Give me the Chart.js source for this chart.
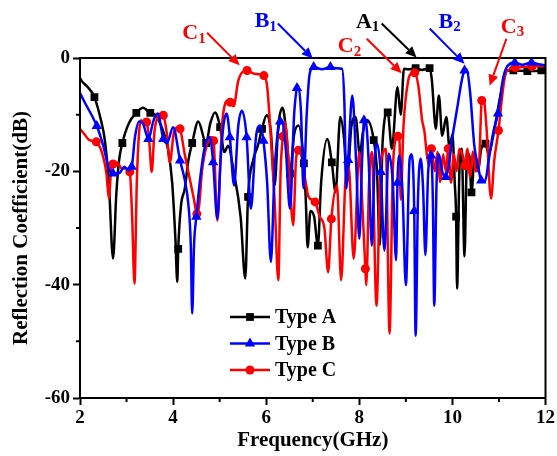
<!DOCTYPE html>
<html>
<head>
<meta charset="utf-8">
<script src="https://cdn.jsdelivr.net/npm/chart.js@4.4.0/dist/chart.umd.min.js"></script>
<style>
    html, body { margin: 0; padding: 0; background: #fff; }
    #wrap { width: 557px; height: 456px; }
</style>
</head>
<body>
<div id="wrap"><canvas id="s11Chart"></canvas></div>
<script>
// Type A (frequence en GHz, coefficient en dB)
const freqA = [
    2.00, 2.03, 2.15, 2.31, 2.45, 2.53, 2.62, 2.71, 2.78, 2.84,
    2.91, 3.05, 3.21, 3.35, 3.51, 3.61, 3.72, 3.89, 3.98, 4.05,
    4.09, 4.11, 4.17, 4.25, 4.33, 4.41, 4.54, 4.71, 4.80, 4.90,
    5.01, 5.10, 5.18, 5.30, 5.45, 5.55, 5.61, 5.72, 5.82, 5.91,
    6.01, 6.10, 6.18, 6.26, 6.35, 6.43, 6.51, 6.60, 6.69, 6.81,
    6.85, 6.89, 6.95, 7.03, 7.11, 7.18, 7.31, 7.41, 7.49, 7.59,
    7.67, 7.74, 7.83, 7.92, 8.01, 8.08, 8.17, 8.31, 8.38, 8.44,
    8.50, 8.61, 8.70, 8.82, 8.89, 8.96, 9.05, 9.21, 9.35, 9.51,
    9.56, 9.61, 9.64, 9.71, 9.78, 9.87, 9.94, 10.00, 10.05, 10.08,
    10.10, 10.15, 10.20, 10.26, 10.31, 10.36, 10.41, 10.48, 10.55, 10.62,
    10.71, 10.78, 10.87, 11.00, 11.10, 11.18, 11.31, 11.61, 11.91, 12.00
];
const s11A = [
    -3.5, -4.0, -5.0, -6.9, -11, -14.3, -22, -35.4, -24, -18,
    -15, -11.5, -9.7, -8.8, -9.7, -10, -11.5, -16, -22, -32,
    -39.5, -33.7, -26, -23.1, -18, -15, -11.2, -15, -11.5, -9.6,
    -12.2, -16.6, -15.5, -20, -28, -38.9, -24.5, -18, -15.5, -12.5,
    -10.1, -13, -22.5, -12, -8.8, -13, -20.4, -13.5, -11.9, -18.6,
    -25, -33.4, -27, -28, -33.1, -22, -14.3, -18.4, -23.7, -10.4,
    -14, -21.9, -12, -10.4, -17, -13, -11, -14.5, -20, -33,
    -15, -9.6, -16, -5.1, -10, -1.9, -2.0, -1.8, -2.1, -1.8,
    -4, -10, -12.5, -6.6, -13.7, -10.4, -16, -13.5, -22, -28,
    -40.7, -20, -16, -35, -18, -17, -23.7, -17, -20, -16,
    -15.1, -17, -14, -8, -4, -2.2, -2.2, -2.3, -2.2, -2.0
];
const markA = [2.31, 2.91, 3.21, 3.51, 4.11, 4.41, 4.71, 5.01, 5.61, 5.91, 6.51, 6.81,
    7.11, 7.41, 8.31, 8.61, 9.21, 9.51, 10.08, 10.41, 10.71, 11.31, 11.61, 11.91];

// Type B
const freqB = [
    2.00, 2.10, 2.36, 2.50, 2.62, 2.71, 2.85, 2.95, 3.03, 3.11,
    3.18, 3.27, 3.35, 3.47, 3.58, 3.67, 3.79, 3.87, 4.00, 4.15,
    4.25, 4.33, 4.38, 4.41, 4.45, 4.50, 4.60, 4.70, 4.79, 4.86,
    4.95, 5.02, 5.08, 5.15, 5.22, 5.31, 5.40, 5.48, 5.58, 5.67,
    5.78, 5.87, 5.94, 6.02, 6.10, 6.18, 6.25, 6.30, 6.33, 6.42,
    6.51, 6.60, 6.66, 6.69, 6.75, 6.80, 6.87, 6.93, 7.02, 7.20,
    7.38, 7.50, 7.63, 7.68, 7.72, 7.76, 7.85, 7.93, 8.00, 8.06,
    8.10, 8.13, 8.20, 8.27, 8.33, 8.38, 8.46, 8.54, 8.63, 8.72,
    8.79, 8.82, 8.86, 8.93, 9.00, 9.08, 9.12, 9.18, 9.21, 9.26,
    9.32, 9.37, 9.42, 9.48, 9.54, 9.58, 9.61, 9.66, 9.71, 9.78,
    9.86, 9.92, 10.00, 10.10, 10.20, 10.26, 10.30, 10.38, 10.47, 10.55,
    10.62, 10.70, 10.78, 10.88, 10.98, 11.08, 11.15, 11.34, 11.50, 11.70,
    11.85, 12.00
];
const s11B = [
    -6.2, -7.8, -12, -15.5, -19.5, -20.4, -20.3, -19.2, -19.8, -19.2,
    -14, -11.2, -11.5, -14.3, -11, -9.8, -14.3, -15, -12.2, -18.1,
    -21.5, -26, -33, -45.1, -33, -28, -20, -15, -14, -18.4,
    -28.4, -18, -12, -9.8, -14, -22.5, -12, -9.3, -14, -26.6,
    -14, -11.9, -14.6, -22, -36, -20, -13, -11.2, -11, -16,
    -26.6, -10, -5.3, -4.9, -10, -23, -10, -3, -1.6, -2.0,
    -1.6, -1.8, -1.9, -8, -23, -18, -6.6, -18, -31.9, -18,
    -11, -10.7, -18, -33.1, -18, -15.1, -20.1, -34, -16.9, -22,
    -35.7, -22, -17.2, -24, -40.1, -18, -17, -27, -49, -25,
    -17.8, -23, -34.8, -20, -17.2, -25, -43.7, -22, -17, -20,
    -21, -19, -14, -9, -4, -2.2, -2.0, -6, -15.4, -19,
    -21.6, -21.8, -18, -13, -9.8, -4, -1.9, -0.8, -1.2, -0.8,
    -1.1, -1.3
];
const markB = [2.36, 2.71, 3.11, 3.47, 3.79, 4.15, 4.50, 4.86, 5.22, 5.58, 5.94, 6.30, 6.66,
    7.02, 7.38, 7.76, 8.10, 8.46, 8.82, 9.18, 9.54, 9.86, 10.26, 10.62, 10.98, 11.34, 11.70];

// Type C
const freqC = [
    2.00, 2.10, 2.20, 2.35, 2.49, 2.57, 2.62, 2.67, 2.71, 2.80,
    2.90, 3.00, 3.07, 3.12, 3.17, 3.22, 3.27, 3.31, 3.37, 3.43,
    3.49, 3.54, 3.60, 3.67, 3.75, 3.79, 3.86, 3.93, 4.02, 4.11,
    4.15, 4.25, 4.35, 4.45, 4.51, 4.56, 4.62, 4.72, 4.83, 4.87,
    4.95, 5.05, 5.12, 5.18, 5.23, 5.30, 5.40, 5.50, 5.59, 5.75,
    5.95, 6.02, 6.10, 6.18, 6.26, 6.31, 6.36, 6.40, 6.48, 6.58,
    6.64, 6.69, 6.75, 6.85, 6.91, 7.05, 7.15, 7.25, 7.33, 7.40,
    7.52, 7.61, 7.70, 7.77, 7.88, 8.00, 8.06, 8.13, 8.15, 8.21,
    8.27, 8.37, 8.45, 8.50, 8.57, 8.65, 8.72, 8.80, 8.83, 8.86,
    8.89, 8.95, 9.05, 9.12, 9.19, 9.27, 9.35, 9.40, 9.45, 9.50,
    9.55, 9.62, 9.68, 9.74, 9.80, 9.86, 9.91, 9.97, 10.03, 10.09,
    10.15, 10.22, 10.27, 10.32, 10.38, 10.44, 10.50, 10.57, 10.63, 10.67,
    10.73, 10.83, 10.90, 10.99, 11.08, 11.15, 11.29, 11.35, 11.50, 11.71,
    11.85, 12.00
];
const s11C = [
    -12.5, -13.5, -14.5, -14.8, -17.2, -20.5, -24.8, -19.5, -18.7, -18.5,
    -19.5, -19.5, -20.1, -28, -39.8, -22, -13, -11, -11.5, -11.3,
    -15, -20.1, -13, -10.4, -9.8, -10.1, -13, -18.4, -13, -12.2,
    -12.5, -17, -21, -25, -27.5, -26, -20, -15.5, -14, -14.6,
    -28.7, -12, -8, -7.5, -7.8, -8.5, -4, -2.4, -2.2, -2.8,
    -3.1, -5, -14, -25, -39.2, -20, -13.8, -11.3, -18, -29.5,
    -18, -16.3, -17, -22, -24.5, -25.4, -28, -30, -37.8, -28.4,
    -22.5, -39.2, -22, -19, -35.4, -16.6, -25, -37.2, -40.1, -22,
    -16.6, -43.7, -20, -17, -16, -48.6, -20, -14, -13.8, -13.7,
    -25, -12, -4, -2.7, -2.6, -5, -11, -13, -17, -19,
    -16, -20, -16.6, -21.9, -17, -20, -16, -22, -17, -20,
    -16, -17.2, -19, -16, -21, -16.5, -20, -19, -7.5, -7.2,
    -12, -24.8, -18, -12.8, -6, -2.5, -1.9, -1.7, -1.6, -1.5,
    -1.4, -1.5
];
const markC = [2.35, 2.71, 3.07, 3.43, 3.79, 4.15, 4.51, 4.87, 5.23, 5.59, 5.95, 6.36, 6.69,
    7.05, 7.40, 8.13, 8.83, 9.19, 9.55, 9.91, 10.27, 10.63, 10.99, 11.35, 11.71];

const seriesNames = ['Type A', 'Type B', 'Type C'];
const xTicks = [2, 4, 6, 8, 10, 12];
const yTicks = [-60, -40, -20, 0];
const xMinor = [3, 5, 7, 9, 11];
const yMinor = [-50, -30, -10];

const BLACK = '#000000';
const BLUE = '#0000ff';
const RED = '#ff0000';
const SERIF = "'Liberation Serif', 'Times New Roman', serif";

// etiquettes des pics : texte, indice, position du texte, origine et pointe de la fleche (en unites des axes)
const peakNotes = [
    { t: 'C', s: '1', c: RED,   at: [4.45, 4.3],  from: [4.73, 4.45], to: [5.43, -1.3] },
    { t: 'B', s: '1', c: BLUE,  at: [5.99, 6.4],  from: [6.25, 6.1],  to: [7.00, -0.1] },
    { t: 'A', s: '1', c: BLACK, at: [8.18, 6.3],  from: [8.48, 6.1],  to: [9.23, 0.1] },
    { t: 'C', s: '2', c: RED,   at: [7.79, 2.0],  from: [8.16, 3.4],  to: [8.91, -2.7] },
    { t: 'B', s: '2', c: BLUE,  at: [9.94, 6.3],  from: [9.51, 5.2],  to: [10.26, -1.0] },
    { t: 'C', s: '3', c: RED,   at: [11.29, 5.4], from: [11.16, 3.4], to: [10.80, -4.9] }
];

function toPoints(xs, ys) {
    if (xs.length !== ys.length) console.warn('longueurs differentes', xs.length, ys.length);
    return xs.map((x, i) => ({ x: x, y: ys[i] }));
}

function markerRadius(list, r) {
    return ctx => (ctx.raw && list.includes(ctx.raw.x)) ? r : 0;
}

function drawArrow(ctx, x1, y1, x2, y2, color) {
    const a = Math.atan2(y2 - y1, x2 - x1);
    const len = 11, half = 5;
    const bx = x2 - len * Math.cos(a), by = y2 - len * Math.sin(a);
    ctx.strokeStyle = color;
    ctx.fillStyle = color;
    ctx.lineWidth = 2;
    ctx.beginPath();
    ctx.moveTo(x1, y1);
    ctx.lineTo(bx, by);
    ctx.stroke();
    ctx.beginPath();
    ctx.moveTo(x2, y2);
    ctx.lineTo(bx + half * Math.sin(a), by - half * Math.cos(a));
    ctx.lineTo(bx - half * Math.sin(a), by + half * Math.cos(a));
    ctx.closePath();
    ctx.fill();
}

const decorPlugin = {
    id: 'decor',
    afterDraw(chart) {
        const ctx = chart.ctx;
        const area = chart.chartArea;
        const sx = chart.scales.x, sy = chart.scales.y;
        ctx.save();

        // cadre
        ctx.strokeStyle = BLACK;
        ctx.lineWidth = 2;
        ctx.strokeRect(area.left, area.top, area.right - area.left, area.bottom - area.top);

        // petites graduations
        ctx.beginPath();
        xMinor.forEach(v => {
            const px = sx.getPixelForValue(v);
            ctx.moveTo(px, area.bottom);
            ctx.lineTo(px, area.bottom + 4);
        });
        yMinor.forEach(v => {
            const py = sy.getPixelForValue(v);
            ctx.moveTo(area.left, py);
            ctx.lineTo(area.left - 4, py);
        });
        ctx.stroke();

        // fleches et etiquettes
        peakNotes.forEach(n => {
            drawArrow(ctx, sx.getPixelForValue(n.from[0]), sy.getPixelForValue(n.from[1]),
                sx.getPixelForValue(n.to[0]), sy.getPixelForValue(n.to[1]), n.c);
            const tx = sx.getPixelForValue(n.at[0]), ty = sy.getPixelForValue(n.at[1]);
            ctx.fillStyle = n.c;
            ctx.textBaseline = 'middle';
            ctx.textAlign = 'left';
            ctx.font = 'bold 22px ' + SERIF;
            const w1 = ctx.measureText(n.t).width;
            ctx.font = 'bold 15px ' + SERIF;
            const w2 = ctx.measureText(n.s).width;
            const x0 = tx - (w1 + w2) / 2;
            ctx.font = 'bold 22px ' + SERIF;
            ctx.fillText(n.t, x0, ty);
            ctx.font = 'bold 15px ' + SERIF;
            ctx.fillText(n.s, x0 + w1, ty + 5);
        });

        // legende
        chart.data.datasets.forEach((ds, i) => {
            const y = area.top + 259 + i * 26.5;
            const x0 = area.left + 150;
            ctx.strokeStyle = ds.borderColor;
            ctx.fillStyle = ds.borderColor;
            ctx.lineWidth = 2.5;
            ctx.beginPath();
            ctx.moveTo(x0, y);
            ctx.lineTo(x0 + 40, y);
            ctx.stroke();
            Chart.helpers.drawPoint(ctx, {
                pointStyle: ds.pointStyle, radius: ds.legendRadius, rotation: 0, borderWidth: 0
            }, x0 + 20, y);
            ctx.fillStyle = BLACK;
            ctx.font = 'bold 20px ' + SERIF;
            ctx.textAlign = 'left';
            ctx.textBaseline = 'middle';
            ctx.fillText(ds.label, x0 + 45, y + 1);
        });
        ctx.restore();
    }
};

function makeDataset(name, xs, ys, marks, color, style, r, order) {
    return {
        label: name,
        data: toPoints(xs, ys),
        borderColor: color,
        backgroundColor: color,
        pointBackgroundColor: color,
        pointBorderColor: color,
        pointBorderWidth: 0,
        pointStyle: style,
        pointRadius: markerRadius(marks, r),
        legendRadius: r,
        borderWidth: 2.5,
        cubicInterpolationMode: 'monotone',
        order: order
    };
}

Chart.defaults.font.family = SERIF;
Chart.defaults.color = BLACK;

new Chart(document.getElementById('s11Chart'), {
    type: 'line',
    data: {
        datasets: [
            makeDataset(seriesNames[0], freqA, s11A, markA, BLACK, 'rect', 5.5, 2),
            makeDataset(seriesNames[1], freqB, s11B, markB, BLUE, 'triangle', 6, 0),
            makeDataset(seriesNames[2], freqC, s11C, markC, RED, 'circle', 4.5, 1)
        ]
    },
    options: {
        responsive: true,
        maintainAspectRatio: false,
        animation: false,
        events: [],
        layout: { padding: { left: 0, top: 58, right: 11, bottom: 0 } },
        plugins: {
            legend: { display: false },
            tooltip: { enabled: false }
        },
        scales: {
            x: {
                type: 'linear',
                min: 2,
                max: 12,
                afterBuildTicks: s => { s.ticks = xTicks.map(v => ({ value: v })); },
                afterFit: s => { s.height = 58; },
                ticks: { font: { size: 19, weight: 'bold' }, color: BLACK, padding: 2, maxRotation: 0 },
                grid: { drawOnChartArea: false, tickLength: 7, tickWidth: 2, tickColor: BLACK },
                border: { color: BLACK, width: 2 },
                title: {
                    display: true,
                    text: 'Frequency(GHz)',
                    font: { size: 21, weight: 'bold' },
                    color: BLACK,
                    padding: { top: 0, bottom: 3 }
                }
            },
            y: {
                type: 'linear',
                min: -60,
                max: 0,
                afterBuildTicks: s => { s.ticks = yTicks.map(v => ({ value: v })); },
                afterFit: s => { s.width = 80; },
                ticks: { font: { size: 19, weight: 'bold' }, color: BLACK, padding: 3 },
                grid: { drawOnChartArea: false, tickLength: 7, tickWidth: 2, tickColor: BLACK },
                border: { color: BLACK, width: 2 },
                title: {
                    display: true,
                    text: 'Reflection Coefficient(dB)',
                    font: { size: 21, weight: 'bold' },
                    color: BLACK,
                    padding: { top: 9, bottom: 0 }
                }
            }
        }
    },
    plugins: [decorPlugin]
});
</script>
</body>
</html>
